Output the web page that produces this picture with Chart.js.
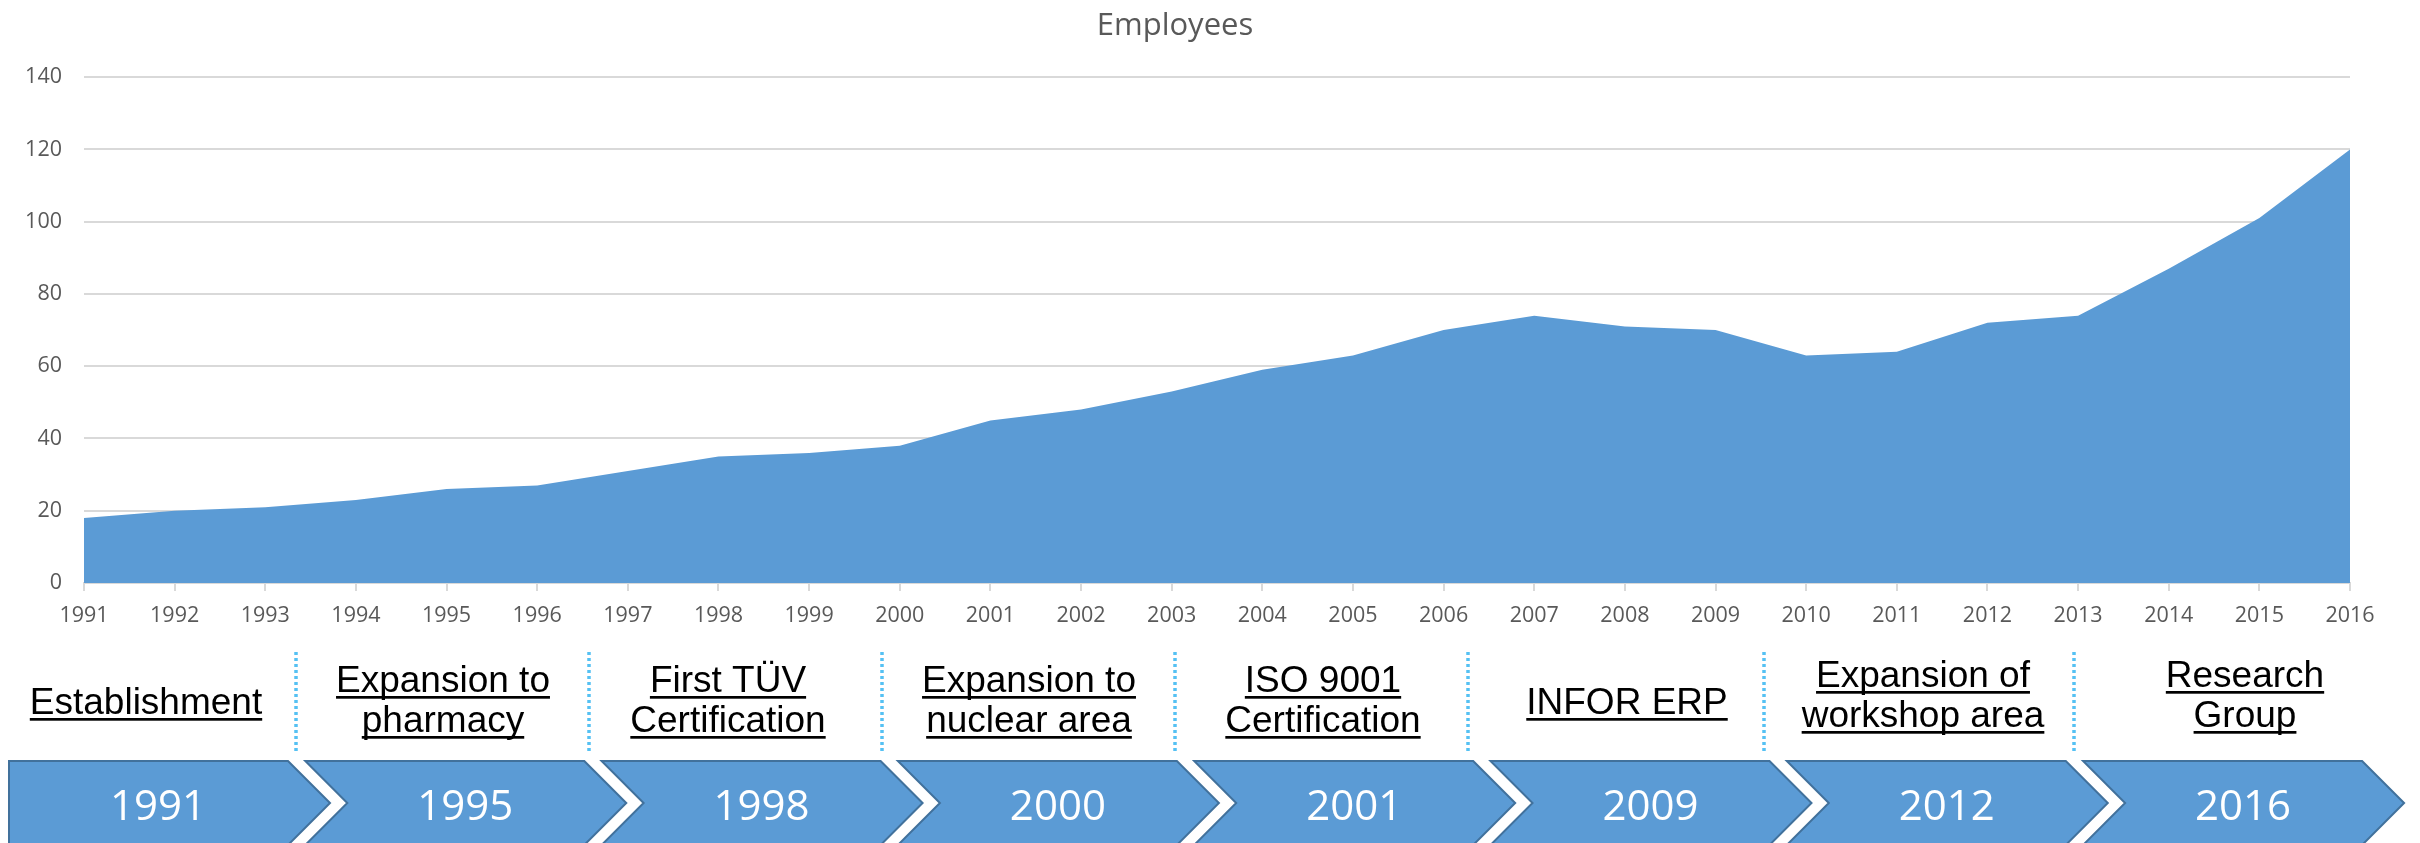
<!DOCTYPE html>
<html>
<head>
<meta charset="utf-8">
<script src="https://cdn.jsdelivr.net/npm/chart.js@4.4.1/dist/chart.umd.min.js"></script>
<style>
  html, body { margin: 0; padding: 0; background: #ffffff; }
  #wrap { width: 2420px; height: 843px; position: relative; }
  canvas { display: block; }
</style>
</head>
<body>
<div id="wrap"><canvas id="c" width="2420" height="843"></canvas></div>
<script>
// ---- data ----
const years = ['1991','1992','1993','1994','1995','1996','1997','1998','1999','2000','2001','2002','2003','2004','2005','2006','2007','2008','2009','2010','2011','2012','2013','2014','2015','2016'];
const employees = [18,20,21,23,26,27,31,35,36,38,45,48,53,59,63,70,74,71,70,63,64,72,74,87,101,120];
const yTickValues = [0,20,40,60,80,100,120,140];
const chartTitle = 'Employees';
const milestoneYears = ['1991','1995','1998','2000','2001','2009','2012','2016'];
const milestoneLabels = [
  ['Establishment'],
  ['Expansion to','pharmacy'],
  ['First TÜV','Certification'],
  ['Expansion to','nuclear area'],
  ['ISO 9001','Certification'],
  ['INFOR ERP'],
  ['Expansion of','workshop area'],
  ['Research','Group']
];

// ---- timeline drawing (annotation below the chart) ----
const timelinePlugin = {
  id: 'timeline',
  afterDraw(chart) {
    const ctx = chart.ctx;
    const layout = {
      chevLeft: 9, chevPitch: 296.3, chevBody: 279, chevTip: 42,
      chevTop: 761, chevH: 84,
      labelX: [146, 443, 728, 1029, 1323, 1627, 1923, 2245],
      labelShift: [0, 0, 0, 0, 0, 0, -5, -5],
      dividers: [296, 589, 882, 1175, 1468, 1764, 2074]
    };
    ctx.save();
    // dotted separators
    ctx.strokeStyle = '#55C1F3';
    ctx.lineWidth = 3.5;
    ctx.setLineDash([3, 3]);
    layout.dividers.forEach(x => {
      ctx.beginPath();
      ctx.moveTo(x, 652);
      ctx.lineTo(x, 751);
      ctx.stroke();
    });
    ctx.setLineDash([]);

    // milestone labels (underlined)
    ctx.fillStyle = '#000000';
    ctx.font = '37px "Liberation Sans", Arial, sans-serif';
    ctx.textAlign = 'center';
    ctx.textBaseline = 'alphabetic';
    milestoneLabels.forEach((lines, i) => {
      const cx = layout.labelX[i];
      const bases = lines.length === 1 ? [714] : [692, 732];
      lines.forEach((t, k) => {
        const by = bases[k] + layout.labelShift[i];
        ctx.fillText(t, cx, by);
        const w = ctx.measureText(t).width;
        ctx.fillRect(cx - w / 2, by + 4, w, 2.7);
      });
    });

    // chevrons
    milestoneYears.forEach((yr, i) => {
      const L = layout.chevLeft + i * layout.chevPitch;
      const top = layout.chevTop, h = layout.chevH, mid = top + h / 2;
      const R = L + layout.chevBody, T = R + layout.chevTip;
      ctx.beginPath();
      ctx.moveTo(L, top);
      ctx.lineTo(R, top);
      ctx.lineTo(T, mid);
      ctx.lineTo(R, top + h);
      ctx.lineTo(L, top + h);
      if (i > 0) ctx.lineTo(L + layout.chevTip, mid);
      ctx.closePath();
      ctx.fillStyle = '#5B9BD5';
      ctx.fill();
      ctx.strokeStyle = '#41719C';
      ctx.lineWidth = 2;
      ctx.stroke();
      ctx.fillStyle = '#ffffff';
      ctx.font = '42px "Open Sans", sans-serif';
      ctx.textAlign = 'center';
      ctx.fillText(yr, i === 0 ? L + 149 : L + 160, 820);
    });
    ctx.restore();
  }
};

Chart.defaults.font.family = '"Open Sans", sans-serif';

new Chart(document.getElementById('c'), {
  type: 'line',
  data: {
    labels: years,
    datasets: [{
      label: chartTitle,
      data: employees,
      fill: 'origin',
      backgroundColor: '#5B9BD5',
      borderColor: '#5B9BD5',
      borderWidth: 0,
      pointRadius: 0,
      tension: 0
    }]
  },
  options: {
    responsive: false,
    animation: false,
    devicePixelRatio: 1,
    layout: { padding: { left: 0, right: 70, top: 0, bottom: 0 } },
    plugins: {
      legend: { display: false },
      tooltip: { enabled: false },
      title: {
        display: true,
        text: chartTitle,
        color: '#595959',
        font: { size: 31, weight: 'normal' },
        padding: { top: 8, bottom: 32 }
      }
    },
    scales: {
      x: {
        offset: false,
        grid: { display: true, drawOnChartArea: false, drawTicks: true, tickLength: 8, color: '#d9d9d9', lineWidth: 2 },
        border: { display: true, color: '#d9d9d9', width: 2 },
        ticks: { color: '#595959', font: { size: 21.5 }, padding: 12, maxRotation: 0, autoSkip: false },
        afterFit: s => { s.height = 260; }
      },
      y: {
        min: 0, max: 140,
        afterBuildTicks: s => { s.ticks = yTickValues.map(v => ({ value: v })); },
        grid: { color: '#d9d9d9', lineWidth: 2, drawTicks: false },
        border: { display: false },
        ticks: { color: '#595959', font: { size: 21.5 }, padding: 22 },
        afterFit: s => { s.width = 84; }
      }
    }
  },
  plugins: [timelinePlugin]
});
</script>
</body>
</html>
